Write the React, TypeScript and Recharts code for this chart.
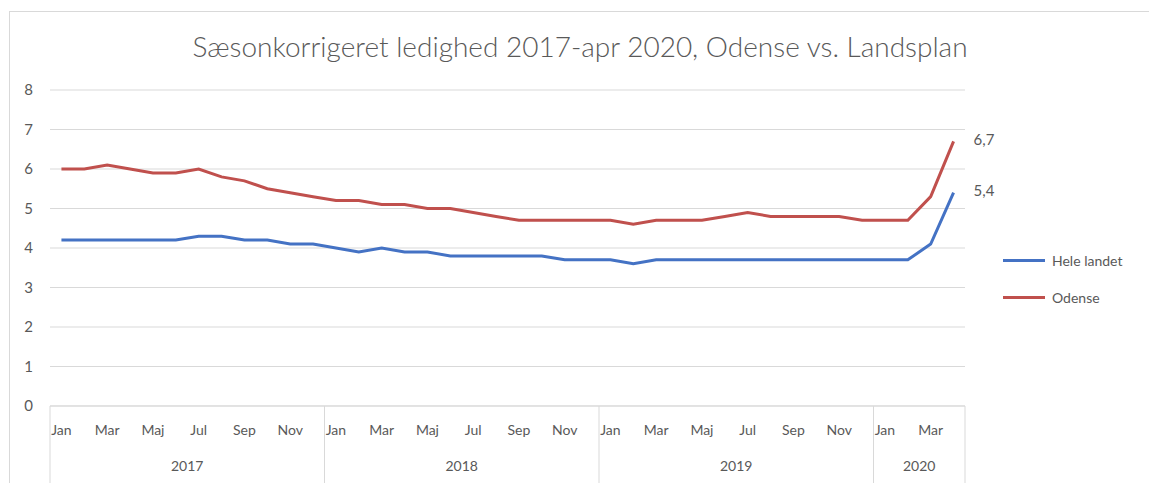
import React from "react";
import {
  LineChart,
  Line,
  XAxis,
  YAxis,
  CartesianGrid,
  Legend,
  LabelList,
} from "recharts";

const years = [2017, 2018, 2019, 2020];
const monthsInYear = [12, 12, 12, 4];
const monthNames = ["Jan", "Feb", "Mar", "Apr", "Maj", "Jun", "Jul", "Aug", "Sep", "Okt", "Nov", "Dec"];

// sæsonkorrigeret ledighed i procent
const heleLandet = [
  4.2, 4.2, 4.2, 4.2, 4.2, 4.2, 4.3, 4.3, 4.2, 4.2, 4.1, 4.1,
  4.0, 3.9, 4.0, 3.9, 3.9, 3.8, 3.8, 3.8, 3.8, 3.8, 3.7, 3.7,
  3.7, 3.6, 3.7, 3.7, 3.7, 3.7, 3.7, 3.7, 3.7, 3.7, 3.7, 3.7,
  3.7, 3.7, 4.1, 5.4,
];
const odense = [
  6.0, 6.0, 6.1, 6.0, 5.9, 5.9, 6.0, 5.8, 5.7, 5.5, 5.4, 5.3,
  5.2, 5.2, 5.1, 5.1, 5.0, 5.0, 4.9, 4.8, 4.7, 4.7, 4.7, 4.7,
  4.7, 4.6, 4.7, 4.7, 4.7, 4.8, 4.9, 4.8, 4.8, 4.8, 4.8, 4.7,
  4.7, 4.7, 5.3, 6.7,
];
const yTicks = [0, 1, 2, 3, 4, 5, 6, 7, 8];

const TEXT = "#595959";
const GRID = "#d9d9d9";
const BLUE = "#4472C4";
const RED = "#C0504D";
const FONT = "Lato, 'Open Sans', sans-serif";

const data = years.flatMap((year, yi) =>
  Array.from({ length: monthsInYear[yi] }, (_, m) => ({
    period: `${monthNames[m]} ${year}`,
    year,
    month: m,
    heleLandet: heleLandet[yi * 12 + m],
    odense: odense[yi * 12 + m],
  }))
);

// start index of every year group
const yearStart = monthsInYear.map((_, yi) =>
  monthsInYear.slice(0, yi).reduce((a, b) => a + b, 0)
);

function PeriodTick(props: any) {
  const { x, y, index, payload } = props;
  const half = payload?.offset || 0;
  const row = data[index];
  if (!row) return null;
  const yi = years.indexOf(row.year);
  const start = yearStart[yi];
  const n = monthsInYear[yi];
  const last = index === data.length - 1;

  return (
    <g>
      {row.month % 2 === 0 && (
        <text x={x} y={y + 25} textAnchor="middle" dominantBaseline="middle" fill={TEXT} fontSize={14} fontFamily={FONT}>
          {monthNames[row.month]}
        </text>
      )}
      {index === start && (
        <line x1={x - half} x2={x - half} y1={y} y2={y + 80} stroke={GRID} />
      )}
      {last && <line x1={x + half} x2={x + half} y1={y} y2={y + 80} stroke={GRID} />}
      {index === start + n / 2 && (
        <text x={x - half} y={y + 61} textAnchor="middle" dominantBaseline="middle" fill={TEXT} fontSize={14} fontFamily={FONT}>
          {row.year}
        </text>
      )}
    </g>
  );
}

function EndLabel(props: any) {
  const { x, y, value, index } = props;
  if (index !== data.length - 1) return null;
  return (
    <text x={x + 20} y={y} dominantBaseline="middle" fill={TEXT} fontSize={15} fontFamily={FONT}>
      {String(value).replace(".", ",")}
    </text>
  );
}

function SideLegend(props: any) {
  const { payload } = props;
  return (
    <div style={{ fontFamily: FONT, fontSize: 14, color: TEXT }}>
      {(payload || []).map((p: any) => (
        <div key={p.value} style={{ display: "flex", alignItems: "center", height: 37 }}>
          <span style={{ display: "inline-block", width: 42, height: 3, background: p.color, marginRight: 7 }} />
          {p.value}
        </div>
      ))}
    </div>
  );
}

export default function App() {
  return (
    <div style={{ position: "absolute", left: 0, top: 0, width: 1149, height: 483, background: "#fff", overflow: "hidden" }}>
      <div
        style={{
          position: "absolute",
          left: 9,
          top: 11,
          width: 1140,
          height: 472,
          borderLeft: `1px solid ${GRID}`,
          borderTop: `1px solid ${GRID}`,
        }}
      />
      <svg width={1149} height={80} style={{ position: "absolute", left: 0, top: 0 }}>
        <text x={580} y={57} textAnchor="middle" fill={TEXT} fontSize={28} fontFamily={FONT} fontWeight={300}>
          Sæsonkorrigeret ledighed 2017-apr 2020, Odense vs. Landsplan
        </text>
      </svg>
      <div style={{ position: "absolute", left: 0, top: 0 }}>
        <LineChart
          width={1149}
          height={483}
          data={data}
          margin={{ top: 90, right: 38, bottom: 0, left: 0 }}
        >
          <CartesianGrid vertical={false} stroke={GRID} />
          <XAxis
            dataKey="period"
            scale="band"
            interval={0}
            height={77}
            tickLine={false}
            tickSize={0}
            tickMargin={0}
            axisLine={{ stroke: GRID }}
            tick={<PeriodTick />}
          />
          <YAxis
            domain={[0, 8]}
            ticks={yTicks}
            width={50}
            axisLine={false}
            tickLine={false}
            tickSize={0}
            tickMargin={17}
            tick={{ fill: TEXT, fontSize: 15, fontFamily: FONT }}
          />
          <Legend
            layout="vertical"
            align="right"
            verticalAlign="middle"
            content={<SideLegend />}
            wrapperStyle={{ position: "absolute", left: 1003, top: 242, width: 146 }}
          />
          <Line
            name="Hele landet"
            dataKey="heleLandet"
            stroke={BLUE}
            strokeWidth={3}
            dot={false}
            isAnimationActive={false}
          >
            <LabelList dataKey="heleLandet" content={<EndLabel />} />
          </Line>
          <Line
            name="Odense"
            dataKey="odense"
            stroke={RED}
            strokeWidth={3}
            dot={false}
            isAnimationActive={false}
          >
            <LabelList dataKey="odense" content={<EndLabel />} />
          </Line>
        </LineChart>
      </div>
    </div>
  );
}
